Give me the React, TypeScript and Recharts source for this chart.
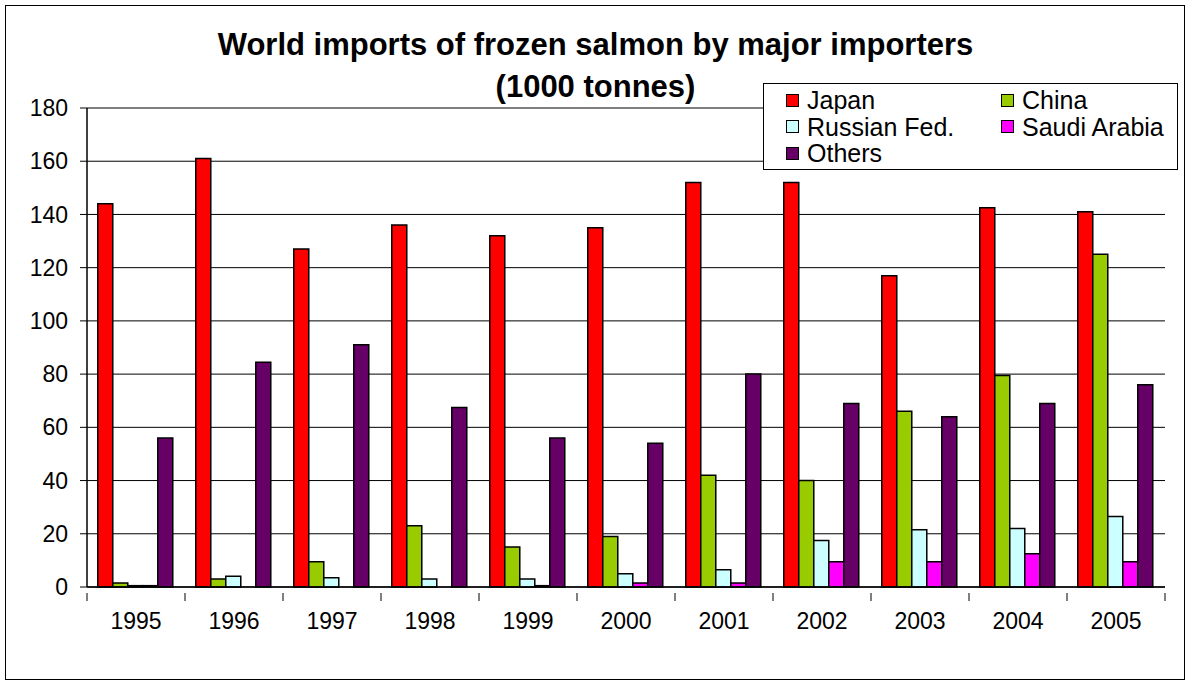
import { BarChart, Bar, XAxis, YAxis, CartesianGrid } from "recharts";

const years = ["1995", "1996", "1997", "1998", "1999", "2000", "2001", "2002", "2003", "2004", "2005"];
const japan = [144, 161, 127, 136, 132, 135, 152, 152, 117, 142.5, 141];
const china = [1.5, 3, 9.5, 23, 15, 19, 42, 40, 66, 79.5, 125];
const russia = [0.5, 4, 3.5, 3, 3, 5, 6.5, 17.5, 21.5, 22, 26.5];
const saudi = [0.5, 0, 0, 0, 0.5, 1.5, 1.5, 9.5, 9.5, 12.5, 9.5];
const others = [56, 84.5, 91, 67.5, 56, 54, 80, 69, 64, 69, 76];
const yTicks = [0, 20, 40, 60, 80, 100, 120, 140, 160, 180];

const series = [
  { key: "japan", name: "Japan", color: "#ff0000" },
  { key: "china", name: "China", color: "#99cc00" },
  { key: "russia", name: "Russian Fed.", color: "#ccffff" },
  { key: "saudi", name: "Saudi Arabia", color: "#ff00ff" },
  { key: "others", name: "Others", color: "#660066" },
];

const data = years.map((y, i) => ({
  year: y,
  japan: japan[i],
  china: china[i],
  russia: russia[i],
  saudi: saudi[i],
  others: others[i],
}));

const FONT = "'Liberation Sans', Arial, sans-serif";

// year label plus Excel-style tick marks on the category boundaries
function YearTick(props: any) {
  const { x, y, payload, index } = props;
  const half = payload.offset ?? 0;
  const isLast = index === years.length - 1;
  return (
    <g>
      <line x1={x - half} x2={x - half} y1={y} y2={y + 8} stroke="#000" />
      {isLast && <line x1={x + half} x2={x + half} y1={y} y2={y + 8} stroke="#000" />}
      <text x={x} y={y + 36} textAnchor="middle" fontSize={23} fontFamily={FONT} fill="#000">
        {payload.value}
      </text>
    </g>
  );
}

function LegendBox() {
  return (
    <div
      style={{
        position: "absolute",
        left: 763,
        top: 83,
        width: 415,
        height: 87,
        border: "1px solid #000",
        background: "#fff",
        fontFamily: FONT,
        fontSize: 25,
        color: "#000",
        boxSizing: "border-box",
        display: "grid",
        gridTemplateColumns: "215px 180px",
        gridAutoRows: "26.5px",
        paddingLeft: 22,
        paddingTop: 3,
      }}
    >
      {series.map((s) => (
        <div key={s.key} style={{ display: "flex", alignItems: "center", lineHeight: "26px", whiteSpace: "nowrap" }}>
          <span
            style={{
              display: "inline-block",
              width: 11,
              height: 11,
              background: s.color,
              border: "1.5px solid #000",
              marginRight: 8,
              flexShrink: 0,
            }}
          />
          {s.name}
        </div>
      ))}
    </div>
  );
}

export default function App() {
  return (
    <div style={{ position: "absolute", left: 0, top: 0, width: 1191, height: 684, background: "#fff" }}>
      <div
        style={{
          position: "absolute",
          left: 5,
          top: 5,
          width: 1180,
          height: 675,
          border: "1px solid #000",
          boxSizing: "border-box",
        }}
      />
      <div
        style={{
          position: "absolute",
          left: 0,
          top: 24,
          width: 1191,
          textAlign: "center",
          fontFamily: FONT,
          fontWeight: "bold",
          fontSize: 31,
          lineHeight: "42px",
          color: "#000",
        }}
      >
        <div>World imports of frozen salmon by major importers</div>
        <div>(1000 tonnes)</div>
      </div>
      <div style={{ position: "absolute", left: 0, top: 0 }}>
        <BarChart
          width={1191}
          height={684}
          data={data}
          margin={{ top: 108, right: 26, bottom: 38, left: 0 }}
          barCategoryGap="11%"
          barGap={0}
        >
          <CartesianGrid horizontal vertical={false} stroke="#000" strokeWidth={1} />
          <XAxis
            dataKey="year"
            tickLine={false}
            axisLine={{ stroke: "#000", strokeWidth: 1.5 }}
            height={59}
            tick={<YearTick />}
            tickMargin={0}
            interval={0}
          />
          <YAxis
            width={87}
            domain={[0, 180]}
            ticks={yTicks}
            interval={0}
            tickSize={7}
            axisLine={{ stroke: "#000", strokeWidth: 1.5 }}
            tickLine={{ stroke: "#000" }}
            tick={{ fontSize: 23, fill: "#000", fontFamily: FONT }}
            dx={-10}
          />
          {series.map((s) => (
            <Bar
              key={s.key}
              dataKey={s.key}
              name={s.name}
              fill={s.color}
              stroke="#000"
              strokeWidth={1.5}
              isAnimationActive={false}
            />
          ))}
        </BarChart>
      </div>
      <LegendBox />
    </div>
  );
}
